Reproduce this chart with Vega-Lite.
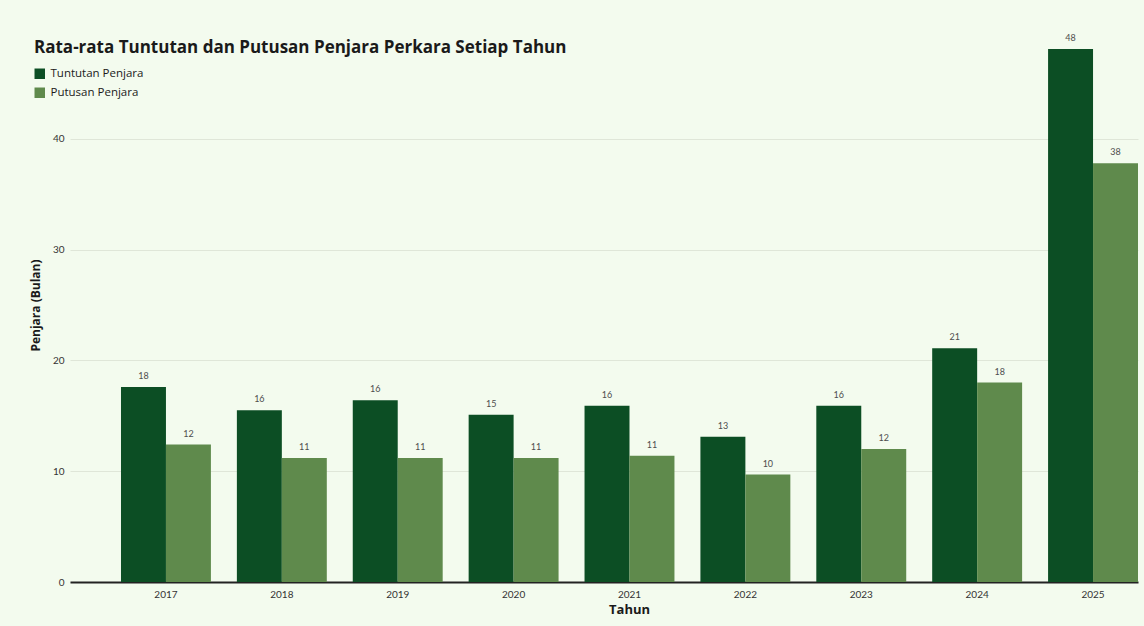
{
  "$schema": "https://vega.github.io/schema/vega-lite/v6.json",
  "autosize": {"type": "none"},
  "padding": {"left": 70, "top": 28, "right": 6, "bottom": 44},
  "width": 1068,
  "height": 554,
  "background": "#f3fbee",
  "config": {
    "view": {"stroke": null},
    "font": "Open Sans"
  },
  "title": {
    "text": "Rata-rata Tuntutan dan Putusan Penjara Perkara Setiap Tahun",
    "anchor": "start",
    "frame": "group",
    "font": "Open Sans",
    "fontSize": 17,
    "fontWeight": "bold",
    "color": "#1a1a1a",
    "dx": -36,
    "dy": 33
  },
  "data": {
    "values": [
      {"tahun": "2017", "seri": "Tuntutan Penjara", "nilai": 17.6},
      {"tahun": "2017", "seri": "Putusan Penjara", "nilai": 12.4},
      {"tahun": "2018", "seri": "Tuntutan Penjara", "nilai": 15.5},
      {"tahun": "2018", "seri": "Putusan Penjara", "nilai": 11.2},
      {"tahun": "2019", "seri": "Tuntutan Penjara", "nilai": 16.4},
      {"tahun": "2019", "seri": "Putusan Penjara", "nilai": 11.2},
      {"tahun": "2020", "seri": "Tuntutan Penjara", "nilai": 15.1},
      {"tahun": "2020", "seri": "Putusan Penjara", "nilai": 11.2},
      {"tahun": "2021", "seri": "Tuntutan Penjara", "nilai": 15.9},
      {"tahun": "2021", "seri": "Putusan Penjara", "nilai": 11.4},
      {"tahun": "2022", "seri": "Tuntutan Penjara", "nilai": 13.1},
      {"tahun": "2022", "seri": "Putusan Penjara", "nilai": 9.7},
      {"tahun": "2023", "seri": "Tuntutan Penjara", "nilai": 15.9},
      {"tahun": "2023", "seri": "Putusan Penjara", "nilai": 12.0},
      {"tahun": "2024", "seri": "Tuntutan Penjara", "nilai": 21.1},
      {"tahun": "2024", "seri": "Putusan Penjara", "nilai": 18.0},
      {"tahun": "2025", "seri": "Tuntutan Penjara", "nilai": 48.1},
      {"tahun": "2025", "seri": "Putusan Penjara", "nilai": 37.8}
    ]
  },
  "encoding": {
    "x": {
      "field": "tahun",
      "type": "nominal",
      "title": "Tahun",
      "scale": {"paddingInner": 0.224, "paddingOuter": 0.22, "align": 1},
      "axis": {
        "labelAngle": 0,
        "labelFont": "Lato",
        "labelFontSize": 10,
        "labelColor": "#333333",
        "labelPadding": 7,
        "ticks": false,
        "domainColor": "#222222",
        "domainWidth": 2,
        "titleFont": "Open Sans",
        "titleFontSize": 13,
        "titleFontWeight": "bold",
        "titleColor": "#1a1a1a",
        "titlePadding": 4,
        "titleX": 559
      }
    },
    "xOffset": {"field": "seri", "type": "nominal", "sort": ["Tuntutan Penjara", "Putusan Penjara"]},
    "y": {
      "field": "nilai",
      "type": "quantitative",
      "title": "Penjara (Bulan)",
      "scale": {"domain": [0, 50], "nice": false},
      "axis": {
        "values": [0, 10, 20, 30, 40],
        "labelFont": "Lato",
        "labelFontSize": 10,
        "labelColor": "#333333",
        "labelPadding": 6,
        "ticks": false,
        "domain": false,
        "gridColor": "#dfe6d8",
        "gridWidth": 1,
        "titleFont": "Open Sans",
        "titleFontSize": 12,
        "titleFontWeight": "bold",
        "titleColor": "#1a1a1a",
        "titlePadding": 10
      }
    }
  },
  "layer": [
    {
      "mark": {"type": "bar"},
      "encoding": {
        "color": {
          "field": "seri",
          "type": "nominal",
          "sort": ["Tuntutan Penjara", "Putusan Penjara"],
          "scale": {"domain": ["Tuntutan Penjara", "Putusan Penjara"], "range": ["#0c4e24", "#5f8a4c"]},
          "legend": {
            "title": null,
            "orient": "none",
            "legendX": -36,
            "legendY": 40,
            "symbolType": "square",
            "symbolSize": 110,
            "symbolStrokeWidth": 0,
            "labelFont": "Open Sans",
            "labelFontSize": 11.5,
            "labelColor": "#1a1a1a",
            "rowPadding": 6,
            "labelOffset": 5
          }
        }
      }
    },
    {
      "mark": {"type": "text", "baseline": "bottom", "dy": -6, "font": "Lato", "fontSize": 9, "fill": "#4d4d4d"},
      "encoding": {
        "text": {"field": "nilai", "type": "quantitative", "format": ".0f"}
      }
    }
  ]
}
